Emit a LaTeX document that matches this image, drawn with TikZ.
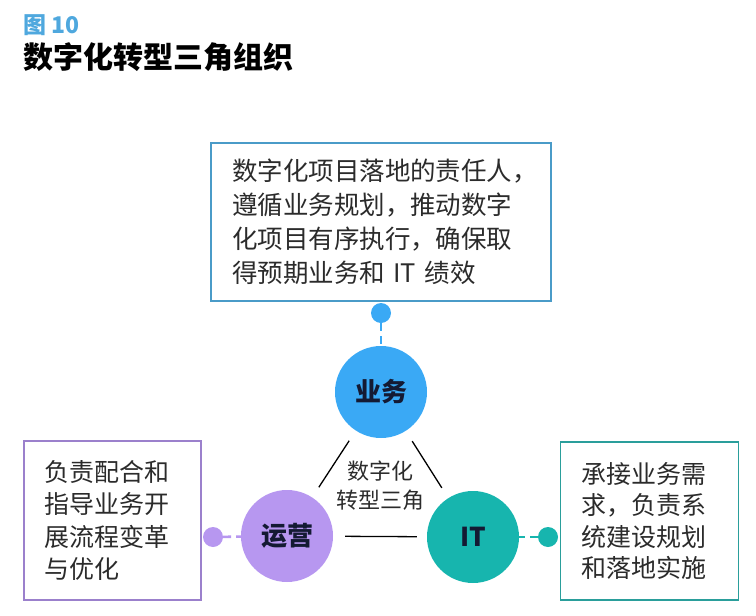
\documentclass[tikz,border=0pt]{standalone}
\usepackage{fontspec}
\setmainfont{Noto Sans CJK SC}
\usetikzlibrary{positioning}

\definecolor{figblue}{HTML}{4FA8DE}
\definecolor{bizblue}{HTML}{3AA9F5}
\definecolor{opspurple}{HTML}{B797F0}
\definecolor{itteal}{HTML}{17B5AE}
\definecolor{topline}{HTML}{4A9BC8}
\definecolor{leftline}{HTML}{9B80CC}
\definecolor{rightline}{HTML}{2A9E9B}
\definecolor{bodytext}{HTML}{2B2B2B}
\definecolor{rolefont}{HTML}{141A33}

\begin{document}
\begin{tikzpicture}[
        x=1pt, y=-1pt,
        node distance=1pt,
        textbox/.style={draw, rectangle, line width=1.6pt, inner xsep=21pt, inner ysep=0pt, align=left, text=bodytext},
        role/.style={circle, minimum size=92pt, inner sep=0pt, font=\fontsize{26}{26}\selectfont\bfseries, text=rolefont},
        joint/.style={circle, minimum size=20pt, inner sep=0pt},
        link/.style={line width=2.6pt, dash pattern=on 8pt off 5pt},
        side/.style={line width=1.3pt, shorten <=12pt, shorten >=12pt}
    ]
    \useasboundingbox (0,0) rectangle (756,616);

    % Titel
    \node[anchor=west, text=figblue, font=\fontsize{23}{23}\selectfont\bfseries] (fignum) at (20,25) {图 10};
    \node[anchor=west, font=\fontsize{30}{30}\selectfont\bfseries] (title) at (20,57) {数字化转型三角组织};

    % Drei Rollen
    \node[role, fill=bizblue] (biz) at (381,392) {业务};
    \node[role, fill=opspurple] (ops) at (287,536) {运营};
    \node[role, fill=itteal] (it) at (473,537) {IT};

    % Dreieck zwischen den Kreisen
    \draw[side] (biz) -- (ops);
    \draw[side] (biz) -- (it);
    \draw[side, shorten >=10pt] (ops) -- (it);
    \node[align=center, text=bodytext, font=\fontsize{22}{29}\selectfont] (core) at (380,486) {数字化\\转型三角};

    % Beschreibungen
    \node[textbox, draw=topline, minimum width=340pt, minimum height=158pt, text width=298pt,
          font=\fontsize{25.5}{34}\selectfont] (bizbox) at (381,222)
        {数字化项目落地的责任人，\\遵循业务规划，推动数字\\化项目有序执行，确保取\\得预期业务和 IT 绩效};
    \node[textbox, draw=leftline, minimum width=177pt, minimum height=159pt, text width=135pt,
          font=\fontsize{25}{32.5}\selectfont] (opsbox) at (112.5,520.5)
        {负责配合和\\指导业务开\\展流程变革\\与优化};
    \node[textbox, draw=rightline, minimum width=178pt, minimum height=158pt, text width=136pt,
          font=\fontsize{25}{31.5}\selectfont] (itbox) at (649.5,521)
        {承接业务需\\求，负责系\\统建设规划\\和落地实施};

    % Verbindungspunkte
    \node[joint, fill=bizblue] (bizdot) [below=1pt of bizbox] {};
    \node[joint, fill=opspurple] (opsdot) at (213,537) {};
    \node[joint, fill=itteal] (itdot) at (548,537) {};

    % gestrichelte Verbindungen
    \draw[link, draw=bizblue] (bizdot) -- (biz);
    \draw[link, draw=opspurple] (opsdot) -- (ops);
    \draw[link, draw=itteal] (itdot) -- (it);

\end{tikzpicture}
\end{document}
